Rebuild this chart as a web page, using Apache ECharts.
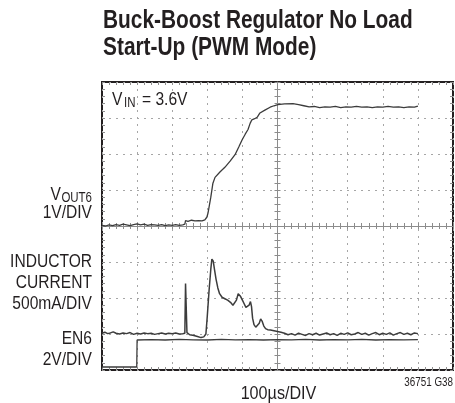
<!DOCTYPE html>
<html>
<head>
<meta charset="utf-8">
<script src="https://cdn.jsdelivr.net/npm/echarts@6/dist/echarts.min.js"></script>
<style>
  html, body { margin: 0; padding: 0; background: #ffffff; }
  #chart { width: 455px; height: 403px; }
</style>
</head>
<body>
<div id="chart"></div>
<script>
// Time base: 100 µs per division, 10 divisions across
const timeTicksUs = [0, 100, 200, 300, 400, 500, 600, 700, 800, 900, 1000];

// VOUT6 (V), 1 V/div, ground on the centre line
const voutTrace = [
  [0,0.02],[10,0.0],[20,0.03],[30,0.01],[40,0.04],[50,0.02],[60,0.05],[70,0.03],[80,0.01],[90,0.04],
  [100,0.06],[110,0.03],[120,0.05],[130,0.02],[140,0.04],[150,0.03],[160,0.02],[170,0.04],[180,0.01],
  [190,0.03],[200,0.02],[210,0.04],[220,0.02],[230,0.03],[236,0.05],[238,0.15],[245,0.13],[255,0.16],
  [265,0.14],[275,0.15],[285,0.14],[293,0.17],[299,0.25],[302,0.36],[310,0.8],[316,1.19],[322,1.35],
  [336,1.5],[350,1.63],[365,1.8],[379,1.98],[390,2.2],[399,2.39],[408,2.55],[416,2.68],[422,2.85],
  [427,2.95],[435,2.98],[442,3.02],[450,3.14],[464,3.22],[479,3.30],[490,3.34],[501,3.37],[520,3.39],
  [544,3.40],[560,3.37],[575,3.34],[590,3.31],[605,3.32],[620,3.29],[635,3.31],[650,3.30],[665,3.32],
  [680,3.29],[695,3.31],[710,3.30],[725,3.32],[740,3.30],[755,3.31],[770,3.29],[785,3.31],[800,3.30],
  [815,3.32],[830,3.30],[845,3.31],[860,3.29],[875,3.31],[890,3.30],[900,3.33]
];

// Inductor current (mA), 500 mA/div
const inductorTrace = [
  [0,10],[8,25],[16,5],[24,15],[32,30],[40,10],[50,0],[60,15],[70,5],[80,20],[90,-5],[100,10],
  [110,0],[120,15],[130,5],[140,10],[150,-5],[160,5],[170,15],[180,0],[190,10],[200,5],[210,15],
  [220,0],[230,5],[236,10],[238,700],[240,710],[242,20],[250,-10],[262,-20],[272,-35],[282,-50],
  [290,-40],[296,0],[300,250],[305,600],[310,900],[313,1040],[317,1010],[321,880],[325,760],[330,640],
  [335,560],[342,510],[350,490],[358,470],[366,440],[373,400],[378,390],[383,470],[388,560],[391,570],
  [395,520],[400,470],[405,420],[410,370],[414,360],[419,400],[423,450],[426,380],[429,220],[433,130],
  [438,95],[443,90],[448,150],[452,210],[456,180],[461,110],[466,75],[472,60],[480,55],[490,45],
  [500,35],[510,25],[520,10],[530,-10],[540,5],[550,-15],[560,10],[570,-5],[580,-20],[590,5],[600,-10],
  [610,10],[620,-15],[630,0],[640,15],[650,-10],[660,5],[670,-20],[680,10],[690,-5],[700,15],[710,-10],
  [720,0],[730,20],[740,-5],[750,10],[760,-15],[770,5],[780,20],[790,-10],[800,10],[810,-5],[820,15],
  [830,-15],[840,5],[850,20],[860,-5],[870,10],[880,-10],[890,15],[900,5]
];

// EN6 (V), 2 V/div
const enTrace = [
  [0,0],[20,0.01],[40,0],[60,0.01],[80,0],[99,0],[100,1.5],[140,1.52],[180,1.5],[220,1.53],[260,1.51],
  [300,1.5],[340,1.53],[380,1.51],[420,1.52],[460,1.5],[500,1.52],[540,1.51],[580,1.53],[620,1.5],
  [660,1.52],[700,1.51],[740,1.53],[780,1.5],[820,1.52],[860,1.51],[900,1.52]
];

// Channel scale (units per division) and ground position (divisions from bottom)
const voutScale = 1, voutGround = 4;
const currentScale = 500, currentGround = 1.0;
const enScale = 2, enGround = 0.083;

const toDiv = (trace, scale, ground) => trace.map(p => [p[0], p[1] / scale + ground]);

const FONT = '"Liberation Sans", Arial, sans-serif';
const NARROW = 0.82; // horizontal squeeze giving a condensed face
const INK = '#231f20';
const TRACE = '#3c3c3c';
const GRID_DOT = '#a6a6a6';
const CENTER = '#8c8c8c';
const EDGE_TICK = '#8f8f8f';

const G = { left: 102, top: 82, width: 351, height: 288 };

function xAx(extra) {
  return Object.assign({
    type: 'value', min: timeTicksUs[0], max: timeTicksUs[timeTicksUs.length - 1], interval: 100,
    axisLabel: { show: false },
    axisLine: { show: false, onZero: false },
    axisTick: { show: true, inside: true, length: 3, lineStyle: { color: EDGE_TICK, width: 1 } },
    minorTick: { show: true, splitNumber: 5, length: 3, lineStyle: { color: EDGE_TICK, width: 1 } },
    splitLine: { show: false }
  }, extra);
}
function yAx(extra) {
  return Object.assign({
    type: 'value', min: 0, max: 8, interval: 1,
    axisLabel: { show: false },
    axisLine: { show: false, onZero: false },
    axisTick: { show: true, inside: true, length: 3, lineStyle: { color: EDGE_TICK, width: 1 } },
    minorTick: { show: true, splitNumber: 5, length: 3, lineStyle: { color: EDGE_TICK, width: 1 } },
    splitLine: { show: false }
  }, extra);
}
const centerTick = { lineStyle: { color: CENTER, width: 1 } };

// condensed text element anchored at (x, y)
function label(x, y, text, size, align, weight, squeeze) {
  return {
    type: 'text', x: x, y: y, scaleX: squeeze || NARROW, z: 100,
    style: {
      x: 0, y: 0, text: text, fill: INK,
      font: (weight || 'normal') + ' ' + size + 'px ' + FONT,
      align: align || 'left', verticalAlign: 'middle'
    }
  };
}

const chart = echarts.init(document.getElementById('chart'), null, { renderer: 'canvas' });

chart.setOption({
  animation: false,
  backgroundColor: '#ffffff',
  grid: Object.assign({ show: true, borderColor: INK, borderWidth: 2, backgroundColor: 'transparent' }, G),
  xAxis: [
    xAx({ position: 'bottom',
      splitLine: { show: true, lineStyle: { color: GRID_DOT, width: 1, type: [2, 5] } } }),
    xAx({ position: 'top' }),
    xAx({ position: 'bottom', offset: -G.height / 2,
      axisLine: { show: true, onZero: false, lineStyle: { color: CENTER, width: 1 } },
      axisTick: Object.assign({ show: true, inside: true, length: 3 }, centerTick),
      minorTick: Object.assign({ show: true, splitNumber: 5, length: 3 }, centerTick) }),
    xAx({ position: 'bottom', offset: -G.height / 2,
      axisTick: Object.assign({ show: true, inside: false, length: 3 }, centerTick),
      minorTick: Object.assign({ show: true, splitNumber: 5, length: 3 }, centerTick) })
  ],
  yAxis: [
    yAx({ position: 'left',
      splitLine: { show: true, lineStyle: { color: GRID_DOT, width: 1, type: [2, 5] } } }),
    yAx({ position: 'right' }),
    yAx({ position: 'left', offset: -G.width / 2,
      axisLine: { show: true, onZero: false, lineStyle: { color: CENTER, width: 1 } },
      axisTick: Object.assign({ show: true, inside: true, length: 3 }, centerTick),
      minorTick: Object.assign({ show: true, splitNumber: 5, length: 3 }, centerTick) }),
    yAx({ position: 'left', offset: -G.width / 2,
      axisTick: Object.assign({ show: true, inside: false, length: 3 }, centerTick),
      minorTick: Object.assign({ show: true, splitNumber: 5, length: 3 }, centerTick) })
  ],
  series: [
    { name: 'VOUT6', type: 'line', xAxisIndex: 0, yAxisIndex: 0, showSymbol: false, silent: true,
      data: toDiv(voutTrace, voutScale, voutGround), lineStyle: { color: TRACE, width: 1.3 } },
    { name: 'EN6', type: 'line', xAxisIndex: 0, yAxisIndex: 0, showSymbol: false, silent: true,
      data: toDiv(enTrace, enScale, enGround), lineStyle: { color: TRACE, width: 1.3 } },
    { name: 'INDUCTOR CURRENT', type: 'line', xAxisIndex: 0, yAxisIndex: 0, showSymbol: false, silent: true,
      data: toDiv(inductorTrace, currentScale, currentGround), lineStyle: { color: TRACE, width: 1.5 } }
  ],
  graphic: [
    // heading
    label(103, 21.5, 'Buck-Boost Regulator No Load', 25, 'left', 'bold', 0.835),
    label(103, 48.5, 'Start-Up (PWM Mode)', 25, 'left', 'bold', 0.835),
    // input voltage note inside the screen
    label(112, 100, 'V', 19),
    label(124, 103, 'IN', 14),
    label(142, 100, '= 3.6V', 19),
    // channel captions
    label(61, 194.5, 'V', 19, 'right'),
    label(92, 198, 'OUT6', 14, 'right'),
    label(92, 212.5, '1V/DIV', 19, 'right'),
    label(92, 261.5, 'INDUCTOR', 19, 'right'),
    label(92, 282.5, 'CURRENT', 19, 'right'),
    label(92, 303.5, '500mA/DIV', 19, 'right'),
    label(92, 338.5, 'EN6', 19, 'right'),
    label(92, 360, '2V/DIV', 19, 'right'),
    // time base and figure code
    label(278.5, 393.5, '100µs/DIV', 19, 'center', 'normal', 0.85),
    label(453, 382.5, '36751 G38', 12, 'right')
  ]
});
</script>
</body>
</html>
